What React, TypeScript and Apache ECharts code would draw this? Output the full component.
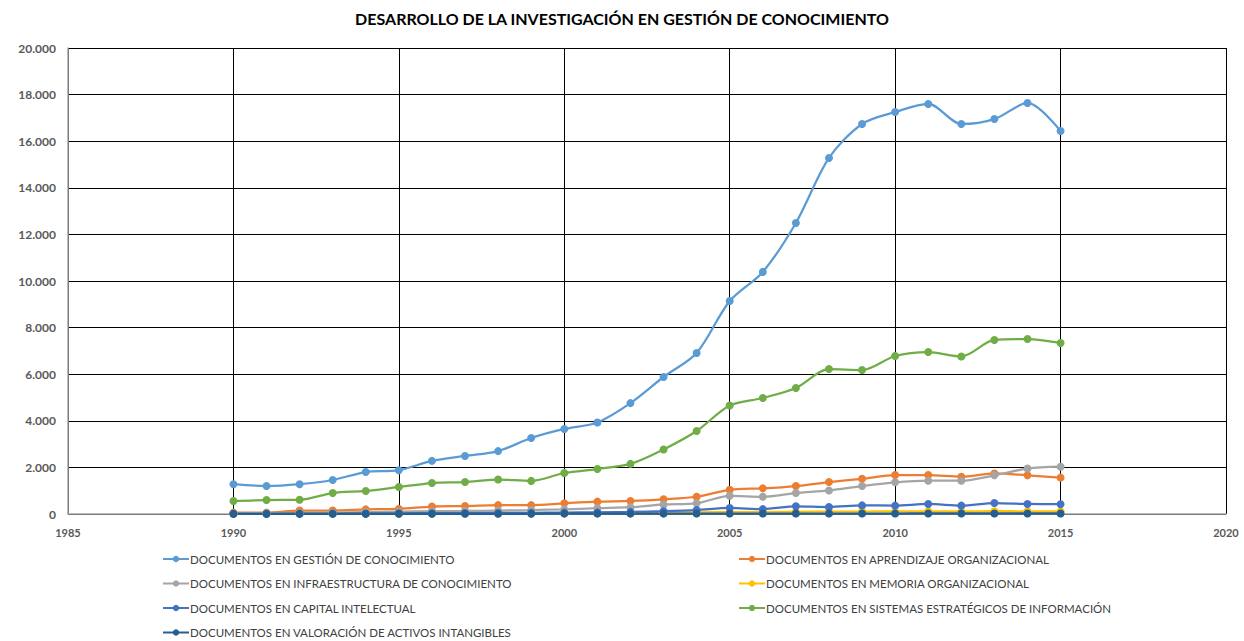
import React, { useEffect, useRef } from "react";
import * as echarts from "echarts";

const years = [1990,1991,1992,1993,1994,1995,1996,1997,1998,1999,2000,2001,2002,2003,2004,2005,2006,2007,2008,2009,2010,2011,2012,2013,2014,2015];

const gestion = [1280,1200,1280,1460,1800,1880,2280,2490,2700,3260,3650,3930,4760,5880,6910,9140,10390,12490,15280,16740,17250,17600,16740,16950,17640,16440];
const aprendizaje = [60,60,150,150,200,220,320,340,380,380,460,530,560,630,740,1040,1100,1200,1370,1510,1670,1670,1600,1740,1660,1560];
const infraestructura = [30,40,50,60,80,100,120,130,150,170,200,250,290,410,460,780,740,900,1010,1200,1360,1430,1430,1660,1950,2030];
const memoria = [10,10,15,15,20,20,25,30,30,35,40,45,50,60,70,80,85,95,100,105,110,115,110,120,115,110];
const capital = [10,10,15,20,25,30,35,40,45,50,60,70,90,120,170,260,210,330,300,370,360,430,360,470,430,420];
const sistemas = [560,600,610,900,990,1160,1330,1370,1480,1420,1760,1930,2150,2770,3560,4660,4980,5410,6220,6180,6780,6950,6760,7470,7510,7340];
const valoracion = [5,5,5,5,5,10,10,10,10,10,15,15,15,15,20,20,20,20,20,20,20,25,25,25,25,25];

const seriesNames = [
  "DOCUMENTOS EN GESTIÓN DE CONOCIMIENTO",
  "DOCUMENTOS EN APRENDIZAJE ORGANIZACIONAL",
  "DOCUMENTOS EN INFRAESTRUCTURA DE CONOCIMIENTO",
  "DOCUMENTOS EN MEMORIA ORGANIZACIONAL",
  "DOCUMENTOS EN CAPITAL INTELECTUAL",
  "DOCUMENTOS EN SISTEMAS ESTRATÉGICOS DE INFORMACIÓN",
  "DOCUMENTOS EN VALORACIÓN DE ACTIVOS INTANGIBLES",
];
const seriesValues = [gestion, aprendizaje, infraestructura, memoria, capital, sistemas, valoracion];
const colors = ["#5B9BD5", "#ED7D31", "#A5A5A5", "#FFC000", "#4472C4", "#70AD47", "#255E91"];

const title = "DESARROLLO DE LA INVESTIGACIÓN EN GESTIÓN DE CONOCIMIENTO";

export default function App() {
  const ref = useRef<HTMLDivElement>(null);
  useEffect(() => {
    if (!ref.current) return;
    const chart = echarts.init(ref.current, null, { renderer: "svg" });
    const font = "Lato, 'Open Sans', sans-serif";
    const legendCommon = {
      orient: "vertical" as const,
      itemWidth: 26,
      itemHeight: 8,
      itemGap: 12.5,
      height: 120,
      padding: 0,
      textStyle: { fontFamily: font, fontSize: 11.5, color: "#404040", padding: [0, 0, 0, -4] },
    };
    chart.setOption({
      animation: false,
      color: colors,
      title: {
        text: title,
        left: "center",
        top: 5,
        textStyle: { fontFamily: font, fontSize: 16, fontWeight: "bold", color: "#000" },
      },
      legend: [
        { ...legendCommon, left: 162, top: 553, data: [seriesNames[0], seriesNames[2], seriesNames[4], seriesNames[6]] },
        { ...legendCommon, left: 738, top: 553, data: [seriesNames[1], seriesNames[3], seriesNames[5]] },
      ],
      grid: { left: 68, right: 18, top: 48, bottom: 127, containLabel: false },
      xAxis: {
        type: "value",
        min: 1985,
        max: 2020,
        interval: 5,
        axisLine: { show: true, lineStyle: { color: "#A6A6A6", width: 1.5 } },
        axisTick: { show: false },
        splitLine: { show: true, lineStyle: { color: "#000", width: 1 } },
        axisLabel: {
          fontFamily: font,
          fontSize: 11,
          fontWeight: "bold",
          color: "#595959",
          margin: 13,
          formatter: (v: number) => String(v),
        },
      },
      yAxis: {
        type: "value",
        min: 0,
        max: 20000,
        interval: 2000,
        axisLine: { show: true, lineStyle: { color: "#A6A6A6", width: 1.5 } },
        axisTick: { show: false },
        splitLine: { show: true, lineStyle: { color: "#000", width: 1 } },
        axisLabel: {
          fontFamily: font,
          fontSize: 12,
          fontWeight: "bold",
          color: "#595959",
          margin: 12,
          formatter: (v: number) => (v === 0 ? "0" : v.toLocaleString("de-DE")),
        },
      },
      series: seriesNames.map((name, i) => ({
        name,
        type: "line",
        smooth: 0.3,
        symbol: "circle",
        symbolSize: 8,
        data: years.map((y, j) => [y, seriesValues[i][j]]),
        lineStyle: { width: 2.25, color: colors[i] },
        itemStyle: { color: colors[i] },
      })),
    });
    return () => chart.dispose();
  }, []);
  return <div ref={ref} style={{ width: 1244, height: 641, position: "absolute", left: 0, top: 0 }} />;
}
